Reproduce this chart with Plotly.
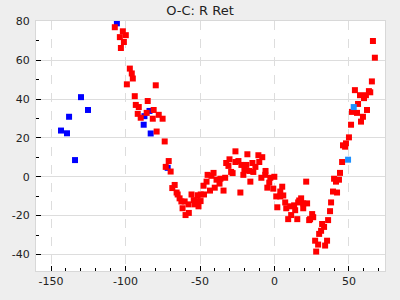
import plotly.graph_objects as go

# Red series (cycle, O-C)
red_x = [-107.2, -101.8, -99.8, -103.8, -101.1, -103.1, -97.1, -95.8, -95.1, -99.1,
         -79.7, -93.8, -85.1, -93.1, -91.1, -91.8, -89.8, -85.8, -81.1, -77.7,
         -81.7, -75.1, -79.1, -73.7, -71.0, -73.0, -69.7, -67.0, -68.6, -65.7,
         -65.0, -63.7, -62.5, -60.3, -57.7, -61.7, -57.5, -59.7, -55.7, -54.2,
         -52.3, -49.6, -53.6, -51.0, -51.5, -49.5, -47.3, -47.6, -45.6, -44.9,
         -42.3, -40.9, -43.3, -40.1, -38.9, -36.9, -36.3, -33.1, -34.2, -32.4,
         -30.9, -30.2, -29.1, -28.1, -26.2, -26.2, -24.2, -22.9, -22.2, -20.9,
         -20.2, -18.9, -18.2, -16.9, -16.2, -14.8, -14.2, -12.8, -10.8, -10.2,
         -8.2, -8.8, -6.0, -6.2, -3.5, -2.8, -0.1, -4.8, -0.8, 5.2,
         3.9, 1.2, 3.9, 5.9, 7.2, 1.9, 7.9, 10.6, 13.2, 16.6,
         17.9, 15.9, 19.3, 21.9, 19.3, 13.9, 11.2, 9.2, 15.3, 21.3,
         25.3, 26.0, 23.9, 23.3, 32.0, 33.3, 31.3, 30.0, 27.3, 35.3,
         29.3, 34.0, 28.0, 36.0, 37.3, 38.0, 39.3, 42.0, 40.0, 43.3,
         41.3, 44.0, 45.4, 46.0, 47.4, 48.0, 50.0, 51.4, 52.0, 55.4,
         56.1, 57.4, 58.1, 59.4, 60.1, 61.4, 62.1, 63.4, 64.3, 54.0,
         65.4, 67.4, 66.1]
red_y = [77.0, 74.9, 72.9, 71.9, 69.4, 66.3, 55.7, 53.2, 50.6, 47.6,
         47.1, 41.5, 39.0, 37.0, 35.9, 32.4, 30.4, 32.9, 34.4, 31.9,
         29.9, 29.9, 23.3, 18.2, 8.1, 5.1, 2.7, -4.2, -5.8, -8.1,
         -9.1, -11.1, -12.7, -12.7, -14.2, -16.2, -18.6, -19.7, -9.1, -12.0,
         -12.5, -12.5, -14.2, -15.2, -9.5, -9.1, -9.1, -4.6, -2.5, 1.0,
         0.5, 2.0, -7.1, -5.6, -1.5, -3.5, -1.0, -0.5, -7.1, 7.1,
         5.6, 9.0, 2.5, 1.9, 13.1, 7.6, 8.1, -8.1, 6.1, 1.0,
         3.5, 6.1, 11.6, 3.0, -2.5, 7.1, 2.5, 5.1, 11.1, 7.6,
         10.1, -0.5, 3.0, 1.0, -3.0, -0.5, 0.0, -5.6, -6.1, -5.1,
         -7.6, -10.1, -10.1, -9.6, -13.2, -15.7, -16.2, -15.2, -14.7, -12.2,
         -11.1, -13.2, -13.7, -13.7, -16.2, -17.2, -19.7, -21.8, -21.8, -2.5,
         -19.2, -20.8, -21.8, -22.3, -24.3, -25.8, -27.8, -29.4, -32.9, -32.9,
         -34.9, -35.4, -38.5, -22.3, -17.7, -13.2, -7.6, -8.1, -1.0, -1.5,
         -2.5, 2.0, 7.6, 16.2, 15.5, 17.2, 20.3, 26.8, 33.4, 32.9,
         37.5, 42.0, 28.4, 30.9, 40.5, 42.0, 34.4, 44.1, 43.5, 44.6,
         49.1, 61.3, 69.9]

# Blue series
blue_x = [-105.8, -129.9, -125.2, -137.9, -143.3, -139.3, -133.9, -83.9, -87.3, -87.8, -83.1, -71.7]
blue_y = [79.0, 41.0, 34.4, 30.9, 23.8, 22.4, 8.6, 33.9, 31.2, 26.8, 22.3, 4.6]

# Light blue series
lblue_x = [53.2, 49.4]
lblue_y = [35.9, 8.8]

x_ticks = [-150, -100, -50, 0, 50]
x_labels = ["-150", "-100", "-50", "0", "50"]
y_ticks = [-40, -20, 0, 20, 40, 60, 80]
y_labels = ["-40", "-20", "0", "20", "40", "60", "80"]

font_family = "DejaVu Sans"

fig = go.Figure()
fig.add_trace(go.Scatter(x=blue_x, y=blue_y, mode="markers",
                         marker=dict(symbol="square", size=6, color="#0000ff", line=dict(width=0))))
fig.add_trace(go.Scatter(x=red_x, y=red_y, mode="markers",
                         marker=dict(symbol="square", size=6, color="#ff0000", line=dict(width=0))))
fig.add_trace(go.Scatter(x=lblue_x, y=lblue_y, mode="markers",
                         marker=dict(symbol="square", size=6, color="#1e90ff", line=dict(width=0))))

fig.update_layout(
    width=400, height=300,
    margin=dict(l=35, r=15, t=21, b=25),
    paper_bgcolor="#eeeeee",
    plot_bgcolor="#ffffff",
    showlegend=False,
    font=dict(family=font_family, size=11, color="#222222"),
    title=dict(text="O-C: R Ret", x=0.5, xanchor="center", xref="container",
               y=1 - 10 / 300, yanchor="middle", yref="container",
               font=dict(family=font_family, size=13, color="#222222")),
)

fig.update_xaxes(
    range=[-160.1, 74.2],
    tickmode="array", tickvals=x_ticks, ticktext=x_labels,
    ticks="inside", ticklen=5, tickcolor="#000000", tickwidth=1,
    minor=dict(tickmode="linear", tick0=0, dtick=10, ticks="inside", ticklen=3,
               tickcolor="#000000", showgrid=False),
    showgrid=True, gridcolor="#dddddd", gridwidth=1, griddash="dash",
    zeroline=False,
    showline=True, mirror=True, linecolor="#d8d8d8", linewidth=1,
    tickfont=dict(family=font_family, size=11, color="#222222"),
)
fig.update_yaxes(
    range=[-48.5, 80.2],
    tickmode="array", tickvals=y_ticks, ticktext=y_labels,
    ticks="inside", ticklen=5, tickcolor="#000000", tickwidth=1,
    minor=dict(tickmode="linear", tick0=0, dtick=10, ticks="inside", ticklen=3,
               tickcolor="#000000", showgrid=False),
    showgrid=True, gridcolor="#dddddd", gridwidth=1,
    zeroline=False,
    showline=True, mirror=True, linecolor="#d8d8d8", linewidth=1,
    ticklabelstandoff=3,
    tickfont=dict(family=font_family, size=11, color="#222222"),
)

fig.write_html("out.html")
